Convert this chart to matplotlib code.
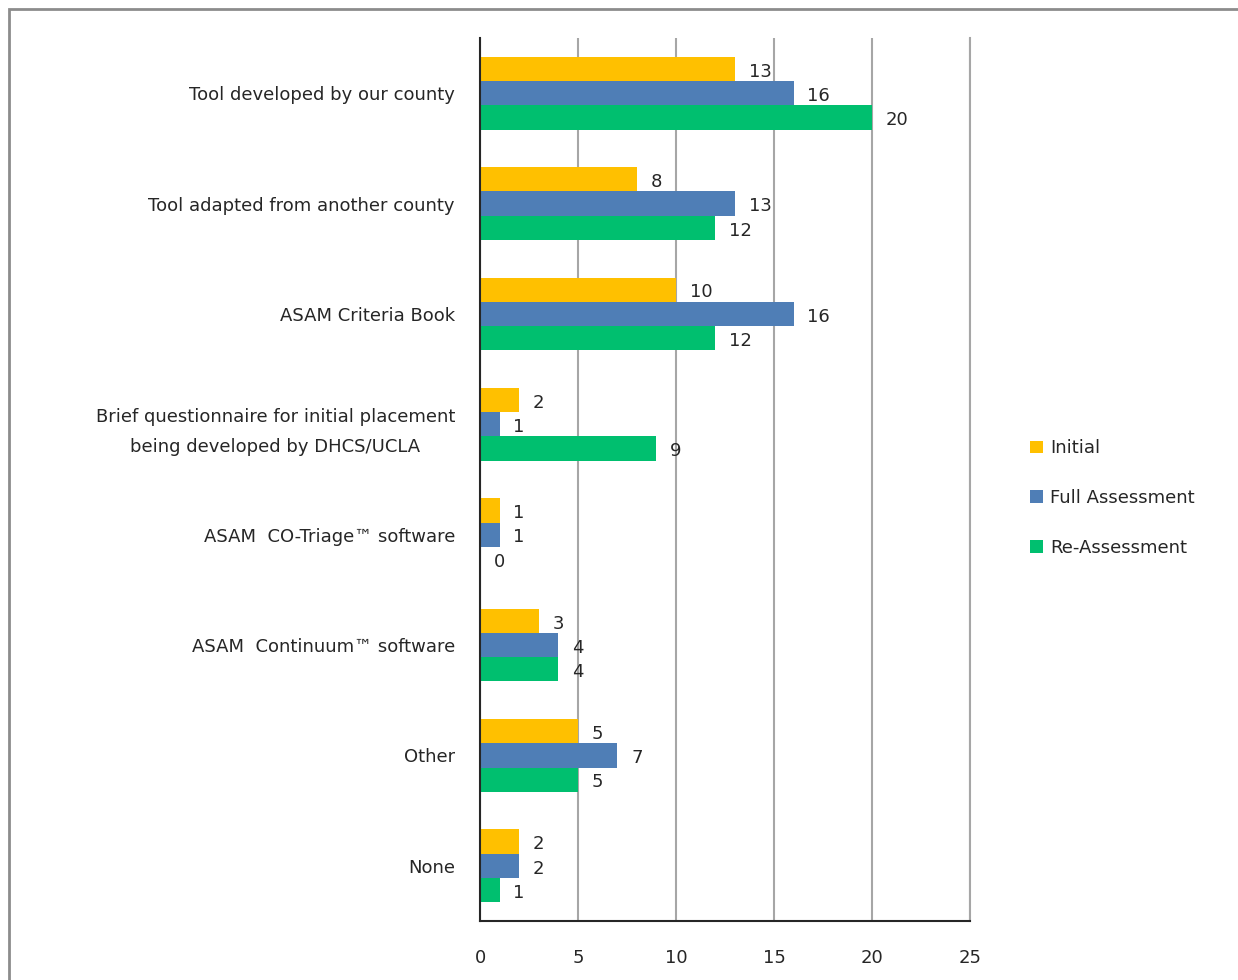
import matplotlib
matplotlib.use('Agg')
import matplotlib.pyplot as plt
import numpy as np
from matplotlib.patches import Rectangle

# data
categories = ['Tool developed by our county',
              'Tool adapted from another county',
              'ASAM Criteria Book',
              'Brief questionnaire for initial placement\nbeing developed by DHCS/UCLA',
              'ASAM  CO-Triage\u2122 software',
              'ASAM  Continuum\u2122 software',
              'Other',
              'None']
initial = [13, 8, 10, 2, 1, 3, 5, 2]
full_assessment = [16, 13, 16, 1, 1, 4, 7, 2]
re_assessment = [20, 12, 12, 9, 0, 4, 5, 1]
series_names = ['Initial', 'Full Assessment', 'Re-Assessment']
colors = ['#FFC000', '#4F7EB6', '#00BF6F']

plt.rcParams['font.family'] = ['DejaVu Sans']
fs = 13

fig = plt.figure(figsize=(12.38, 9.8), dpi=100)
ax = fig.add_axes([480/1238, 1-921/980, 490/1238, 883/980])

# grey frame around the chart area
fig.patches.append(Rectangle((9/1238, -0.05), 1.1, 1.05-9/980, transform=fig.transFigure,
                             fill=False, edgecolor='#8c8c8c', linewidth=2))

y = np.arange(len(categories))
h = 0.22
series = [initial, full_assessment, re_assessment]
for i, (vals, name, c) in enumerate(zip(series, series_names, colors)):
    pos = y + (i - 1) * h
    ax.barh(pos, vals, height=h, color=c, label=name, zorder=3)
    for p, v in zip(pos, vals):
        ax.annotate(str(v), (v, p), xytext=(10, -2), textcoords='offset points',
                    ha='left', va='center', fontsize=fs, color='#262626', zorder=4)

ax.set_ylim(len(categories) - 0.5, -0.5)
ax.set_xlim(0, 25)
ax.set_xticks([0, 5, 10, 15, 20, 25])
ax.set_yticks(y)
ax.set_yticklabels(categories, fontsize=fs, color='#262626', linespacing=1.8)
for lab in ax.get_yticklabels():
    lab.set_multialignment('center')
ax.tick_params(axis='x', length=0, pad=20, labelsize=fs, labelcolor='#262626')
ax.tick_params(axis='y', length=0, pad=18)
ax.grid(axis='x', color='#a6a6a6', linewidth=1.5, zorder=0)
ax.spines['top'].set_visible(False)
ax.spines['right'].set_color('#a6a6a6')
ax.spines['right'].set_linewidth(1.5)
ax.spines['left'].set_color('#262626')
ax.spines['bottom'].set_color('#262626')
ax.spines['left'].set_linewidth(1.5)
ax.spines['bottom'].set_linewidth(1.5)
ax.spines['left'].set_zorder(5)

fig.legend(loc='center left', bbox_to_anchor=(1014/1238, 1-498/980), frameon=False,
           fontsize=fs, handlelength=0.7, handleheight=0.7, handletextpad=0.4,
           labelspacing=1.75, labelcolor='#262626')

fig.savefig('out.png', dpi=100)
